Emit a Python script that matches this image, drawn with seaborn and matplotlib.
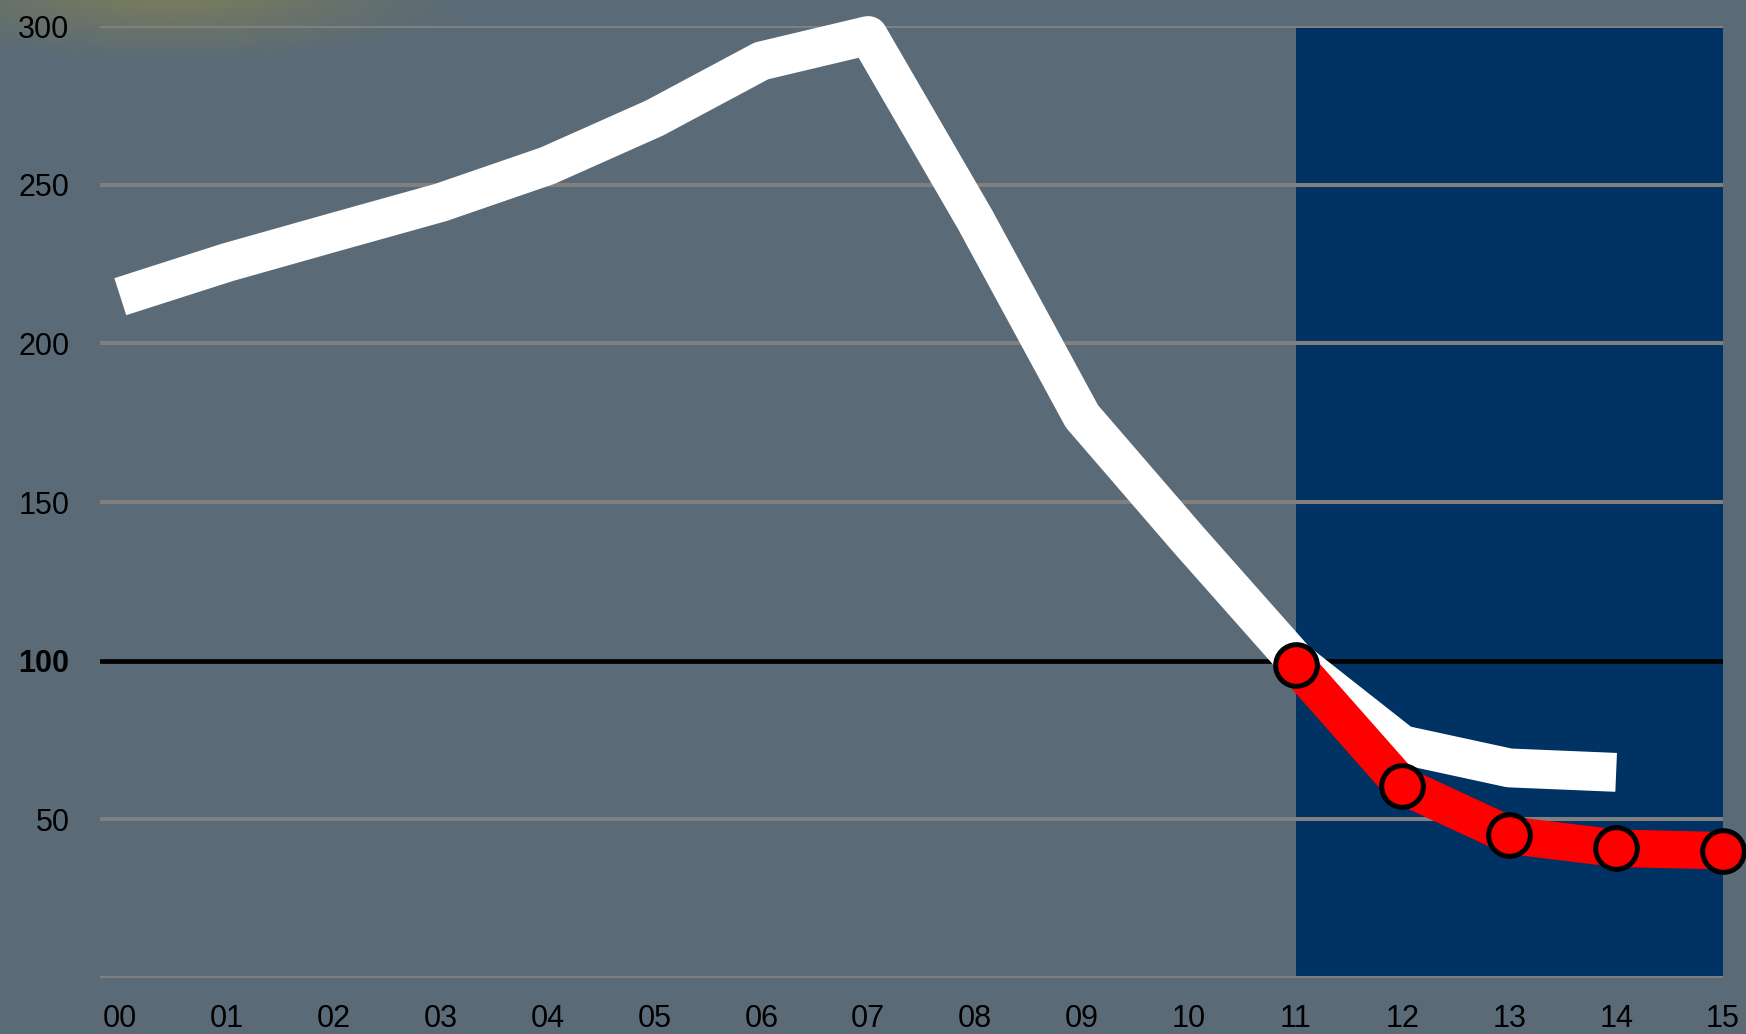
import matplotlib
matplotlib.use("Agg")
import matplotlib.pyplot as plt
import numpy as np
import seaborn as sns

# data
years = ["00", "01", "02", "03", "04", "05", "06", "07",
         "08", "09", "10", "11", "12", "13", "14", "15"]
white_x = list(range(0, 15))
white_vals = [214.7, 225.5, 235.0, 244.4, 256.0, 271.0, 289.0, 297.0,
              239.0, 177.0, 138.0, 100.0, 73.5, 66.2, 64.8]
red_x = [11, 12, 13, 14, 15]
red_vals = [98.7, 60.6, 45.0, 40.9, 40.1]
y_ticks = [0, 50, 100, 150, 200, 250, 300]
y_labels = ["", "50", "100", "150", "200", "250", "300"]
shade_from, shade_to = 11, 15

bg = "#5a6a77"
navy = "#003263"

sns.set_style("white")
plt.rcParams["font.family"] = ["Liberation Sans", "DejaVu Sans"]

fig = plt.figure(figsize=(17.46, 10.34), dpi=100, facecolor=bg)

# faint yellowish glow in the top-left corner
glow_ax = fig.add_axes([0, 0, 1, 1], zorder=-1)
gx, gy = np.meshgrid(np.linspace(0, 1746, 400), np.linspace(0, 1034, 240))
d = np.sqrt(((gx - 170) / 320) ** 2 + ((gy + 10) / 75) ** 2)
alpha = np.clip(1 - d, 0, 1) ** 1.2 * 0.7
rgba = np.zeros(gx.shape + (4,))
rgba[..., 0] = 0.55
rgba[..., 1] = 0.53
rgba[..., 2] = 0.30
rgba[..., 3] = alpha
glow_ax.imshow(rgba, extent=[0, 1746, 1034, 0], aspect="auto")
glow_ax.set_axis_off()

ax = fig.add_axes([100 / 1746, 56 / 1034, 1623 / 1746, 952 / 1034])
ax.set_facecolor("none")

ax.axvspan(shade_from, shade_to, color=navy, zorder=0.2, lw=0)
for v in y_ticks:
    if v == 100:
        ax.axhline(v, color="black", lw=3.4, zorder=1)
    else:
        ax.axhline(v, color="#808080", lw=2.9, zorder=0.5)

sns.lineplot(x=white_x, y=white_vals, ax=ax, color="white", linewidth=28,
             solid_joinstyle="round", solid_capstyle="butt",
             clip_on=False, zorder=3)
sns.lineplot(x=red_x, y=red_vals, ax=ax, color="#ff0000", linewidth=27,
             solid_joinstyle="round", solid_capstyle="butt",
             marker="o", markersize=30, markerfacecolor="#ff0000",
             markeredgecolor="black", markeredgewidth=3.6,
             clip_on=False, zorder=4)

ax.set_xlim(-0.19, 15)
ax.set_ylim(0, 300)
ax.set_xticks(range(len(years)))
ax.set_xticklabels(years)
ax.set_yticks(y_ticks)
ax.set_yticklabels(y_labels)
for lab in ax.get_yticklabels():
    if lab.get_text() == "100":
        lab.set_fontweight("bold")
ax.tick_params(axis="both", length=0, labelsize=22, colors="black")
ax.tick_params(axis="y", pad=22)
ax.tick_params(axis="x", pad=19)
ax.set_xlabel("")
ax.set_ylabel("")
sns.despine(ax=ax, left=True, bottom=True)

plt.savefig("out.png", dpi=100, facecolor=bg)
